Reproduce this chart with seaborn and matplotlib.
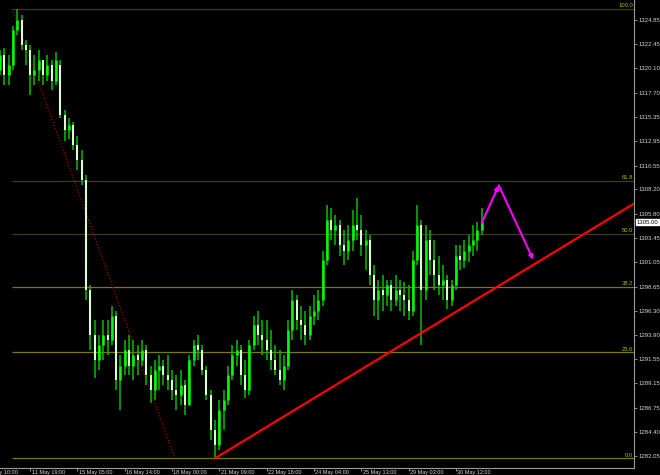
import numpy as np
import pandas as pd
import matplotlib
matplotlib.use("Agg")
import matplotlib.pyplot as plt
import seaborn as sns
from matplotlib.transforms import blended_transform_factory

# ---------------- data (H1 candles, one sample every 3 bars) ----------------
bar_step = 3
highs = [1321.9, 1322.1, 1321.4, 1324.3, 1325.93, 1325.3, 1322.9, 1322.4, 1321.4, 1321.9,
         1320.9, 1321.4, 1320.9, 1321.7, 1320.9, 1316.0, 1315.2, 1314.8, 1313.5, 1312.1,
         1309.6, 1298.8, 1295.4, 1293.9, 1295.4, 1295.4, 1296.8, 1296.3, 1291.9, 1293.4,
         1293.9, 1293.4, 1292.9, 1293.4, 1292.9, 1290.9, 1291.4, 1291.9, 1291.4, 1291.9,
         1290.5, 1290.0, 1290.5, 1289.5, 1291.9, 1293.4, 1293.9, 1292.9, 1290.9, 1288.5,
         1285.6, 1287.5, 1288.5, 1290.9, 1292.9, 1293.4, 1292.9, 1291.4, 1293.4, 1295.8,
         1296.3, 1295.4, 1295.4, 1294.4, 1292.9, 1292.4, 1291.9, 1295.4, 1298.3, 1297.8,
         1296.8, 1296.3, 1296.8, 1297.8, 1298.3, 1302.2, 1306.7, 1306.4, 1305.7, 1305.2,
         1304.2, 1304.7, 1306.2, 1307.4, 1305.7, 1304.2, 1303.7, 1300.8, 1299.3, 1299.8,
         1299.3, 1299.3, 1299.8, 1299.3, 1299.1, 1298.8, 1302.2, 1306.7, 1305.2, 1304.7,
         1304.2, 1303.2, 1301.7, 1300.8, 1299.8, 1299.3, 1302.7, 1302.7, 1303.2, 1303.7,
         1304.7, 1305.0, 1306.4]
lows = [1319.4, 1318.5, 1318.5, 1319.9, 1323.4, 1321.9, 1320.4, 1317.5, 1318.5, 1318.9,
        1318.5, 1318.9, 1318.0, 1318.5, 1315.2, 1313.0, 1313.2, 1312.1, 1310.1, 1308.6,
        1297.3, 1292.4, 1289.7, 1290.5, 1291.4, 1291.9, 1292.9, 1288.5, 1286.5, 1290.0,
        1290.0, 1289.5, 1290.0, 1290.9, 1289.0, 1287.2, 1287.5, 1288.5, 1289.0, 1288.5,
        1287.5, 1286.5, 1287.0, 1286.0, 1287.0, 1290.9, 1291.4, 1290.0, 1287.5, 1283.6,
        1281.79, 1282.6, 1284.6, 1287.0, 1289.5, 1290.9, 1289.0, 1287.7, 1288.0, 1292.4,
        1292.9, 1291.9, 1291.4, 1290.5, 1290.0, 1289.0, 1288.5, 1290.5, 1293.4, 1294.4,
        1293.4, 1292.9, 1293.4, 1294.9, 1295.4, 1296.8, 1300.8, 1303.2, 1302.7, 1301.7,
        1300.8, 1301.3, 1302.2, 1303.2, 1301.7, 1300.3, 1298.8, 1295.8, 1295.4, 1296.3,
        1296.8, 1296.3, 1296.8, 1296.3, 1295.8, 1295.4, 1295.8, 1300.8, 1292.9, 1297.3,
        1299.8, 1298.3, 1297.8, 1297.3, 1296.5, 1296.8, 1298.3, 1300.3, 1300.5, 1301.1,
        1301.7, 1302.2, 1303.7]
opens = [1319.9, 1321.4, 1319.4, 1320.4, 1323.9, 1324.8, 1322.4, 1321.9, 1319.4, 1319.9,
         1320.9, 1319.4, 1320.4, 1318.9, 1320.4, 1315.5, 1314.0, 1314.5, 1312.6, 1311.1,
         1309.1, 1298.3, 1293.9, 1291.4, 1292.9, 1293.9, 1293.4, 1295.8, 1289.5, 1290.9,
         1292.4, 1290.9, 1291.9, 1291.4, 1292.4, 1290.0, 1288.5, 1290.5, 1290.9, 1290.0,
         1289.5, 1288.5, 1288.0, 1289.0, 1287.0, 1291.4, 1292.9, 1292.4, 1290.5, 1288.0,
         1284.6, 1283.1, 1286.5, 1287.5, 1290.0, 1291.9, 1292.4, 1290.0, 1288.5, 1292.9,
         1294.9, 1293.9, 1293.4, 1292.4, 1291.4, 1290.5, 1289.5, 1290.9, 1294.4, 1297.3,
         1295.4, 1294.9, 1293.9, 1295.8, 1296.3, 1297.3, 1301.3, 1305.2, 1304.2, 1304.7,
         1302.7, 1302.2, 1303.2, 1304.7, 1304.2, 1302.7, 1303.2, 1299.8, 1297.3, 1298.3,
         1297.8, 1298.8, 1297.3, 1298.3, 1297.8, 1297.3, 1296.3, 1301.3, 1304.7, 1298.3,
         1303.2, 1301.3, 1299.8, 1298.8, 1299.3, 1297.3, 1298.8, 1301.7, 1301.3, 1302.2,
         1302.7, 1303.2, 1304.2]
closes = [1321.4, 1319.4, 1320.4, 1323.9, 1324.8, 1322.4, 1321.9, 1319.4, 1319.9, 1320.9,
          1319.4, 1320.4, 1318.9, 1320.9, 1315.5, 1314.0, 1314.5, 1312.6, 1311.1, 1309.1,
          1298.3, 1293.9, 1291.4, 1292.9, 1293.9, 1293.4, 1295.8, 1289.5, 1290.9, 1292.4,
          1290.9, 1291.9, 1291.4, 1292.4, 1290.0, 1288.5, 1290.5, 1290.9, 1290.0, 1289.5,
          1288.5, 1288.0, 1289.0, 1287.0, 1291.4, 1292.9, 1292.4, 1290.5, 1288.0, 1284.6,
          1283.1, 1286.5, 1287.5, 1290.0, 1291.9, 1292.4, 1290.0, 1288.5, 1292.9, 1294.9,
          1293.9, 1293.4, 1292.4, 1291.4, 1290.5, 1289.5, 1290.9, 1294.4, 1297.3, 1295.4,
          1294.9, 1293.9, 1295.8, 1296.3, 1297.3, 1301.3, 1305.2, 1304.2, 1304.7, 1302.7,
          1302.2, 1303.2, 1304.7, 1304.2, 1302.7, 1303.2, 1299.8, 1297.3, 1298.3, 1297.8,
          1298.8, 1297.3, 1298.3, 1297.8, 1297.3, 1296.3, 1301.3, 1304.7, 1298.3, 1303.2,
          1301.3, 1299.8, 1298.8, 1299.3, 1297.3, 1298.8, 1301.7, 1301.3, 1302.2, 1302.7,
          1303.2, 1304.2, 1305.0]

price_ticks = [1324.85, 1322.45, 1320.10, 1317.70, 1315.35, 1312.95, 1310.55, 1308.20,
               1305.80, 1303.45, 1301.05, 1298.65, 1296.30, 1293.90, 1291.55, 1289.15,
               1286.75, 1284.40, 1282.05]
time_labels = ["10 May 10:00", "11 May 19:00", "15 May 05:00", "16 May 14:00",
               "18 May 00:00", "21 May 09:00", "22 May 18:00", "24 May 04:00",
               "25 May 13:00", "29 May 03:00", "30 May 12:00"]
time_label_bars = [-12, 21, 54, 87, 120, 153, 186, 219, 252, 285, 318]

fib_levels = [0.0, 23.6, 38.2, 50.0, 61.8, 100.0]
fib_high = 1325.93
fib_low = 1281.79
fib_bars = [8.4, 122]

trend_bars = [150, 309]
trend_prices = [1281.79, 1295.4]

proj_bars = [336, 348, 372]
proj_prices = [1304.9, 1308.6, 1301.3]

last_price = 1305.00

# ---------------- style ----------------
sns.set_theme(style="dark", rc={"axes.facecolor": "black", "figure.facecolor": "black",
                                "grid.color": "black", "axes.edgecolor": "#8c8c8c"})
plt.rcParams["font.family"] = ["Liberation Sans", "DejaVu Sans"]

XMAX = 442.3
YMIN, YMAX = 1280.84, 1326.81

fig = plt.figure(figsize=(6.6, 4.75), dpi=100, facecolor="black")
ax = fig.add_axes([0, 7 / 475, 634 / 660, 468 / 475])
ax.set_facecolor("black")

df = pd.DataFrame({"bar": np.arange(len(closes)) * bar_step, "open": opens,
                   "high": highs, "low": lows, "close": closes})
bull = df["close"] >= df["open"]

# wicks
ax.vlines(df["bar"], df["low"], df["high"], color="#00c000", lw=1.1, zorder=3)
# bodies
ax.vlines(df["bar"][bull], df["open"][bull], df["close"][bull], color="#00ff00", lw=1.8, zorder=4)
ax.vlines(df["bar"][~bull], df["open"][~bull], df["close"][~bull], color="#d8ffd0", lw=1.5, zorder=4)

# fibonacci levels
bright = {0.0, 23.6, 38.2}
for lvl in fib_levels:
    p = fib_low + lvl / 100 * (fib_high - fib_low)
    col = "#7a7a00" if lvl in bright else "#3e3e14"
    ax.hlines(p, fib_bars[0], XMAX, color=col, lw=0.9, zorder=2)
    ax.text(XMAX - 0.6, p + 0.05, f"{lvl:.1f}", ha="right", va="bottom",
            color="#b8b800", fontsize=4.2, zorder=5)
# fib base line (dotted)
ax.plot(fib_bars, [fib_high, fib_low], color="#a00000", lw=0.9,
        ls=(0, (1, 1.6)), zorder=2)

# trend line extended as ray
slope = (trend_prices[1] - trend_prices[0]) / (trend_bars[1] - trend_bars[0])
tl = pd.DataFrame({"bar": [trend_bars[0], XMAX + 5],
                   "price": [trend_prices[0], trend_prices[0] + slope * (XMAX + 5 - trend_bars[0])]})
sns.lineplot(data=tl, x="bar", y="price", color="#ff0000", lw=1.6, ax=ax, zorder=6)

# projection arrows
for k in range(len(proj_bars) - 1):
    ax.annotate("", xy=(proj_bars[k + 1], proj_prices[k + 1]),
                xytext=(proj_bars[k], proj_prices[k]),
                arrowprops=dict(arrowstyle="-|>", color="#ff00ff", lw=1.5,
                                mutation_scale=6, shrinkA=0, shrinkB=0), zorder=7)

ax.set_xlim(0, XMAX)
ax.set_ylim(YMIN, YMAX)
ax.grid(False)

# right price axis
ax.yaxis.tick_right()
ax.set_yticks(price_ticks)
ax.set_yticklabels([f"{p:.2f}" for p in price_ticks])
ax.tick_params(axis="y", which="both", right=True, left=False, length=2, width=0.6,
               color="#a0a0a0", labelsize=4.3, labelcolor="#d4d4d4", pad=1.2)
ax.set_ylabel("")

# bottom time axis
ax.set_xticks(time_label_bars[1:])
ax.set_xticklabels([""] * (len(time_label_bars) - 1))
ax.tick_params(axis="x", bottom=True, length=2, width=0.6, color="#a0a0a0", pad=0)
ax.set_xlabel("")
trans = blended_transform_factory(ax.transData, ax.transAxes)
for b, lab in zip(time_label_bars, time_labels):
    ax.text(b + 1.0, -0.0035, lab, transform=trans, ha="left", va="top",
            color="#d4d4d4", fontsize=4.0, clip_on=False)

for s in ["top", "left"]:
    ax.spines[s].set_visible(False)
for s in ["right", "bottom"]:
    ax.spines[s].set_color("#9a9a9a")
    ax.spines[s].set_linewidth(0.8)

# current price box
tr2 = blended_transform_factory(ax.transAxes, ax.transData)
ax.text(1.004, last_price, f"{last_price:.2f}", transform=tr2, ha="left", va="center",
        color="black", fontsize=4.3, clip_on=False, zorder=8,
        bbox=dict(boxstyle="square,pad=0.15", facecolor="white", edgecolor="white"))

fig.savefig("out.png", dpi=100, facecolor="black")
